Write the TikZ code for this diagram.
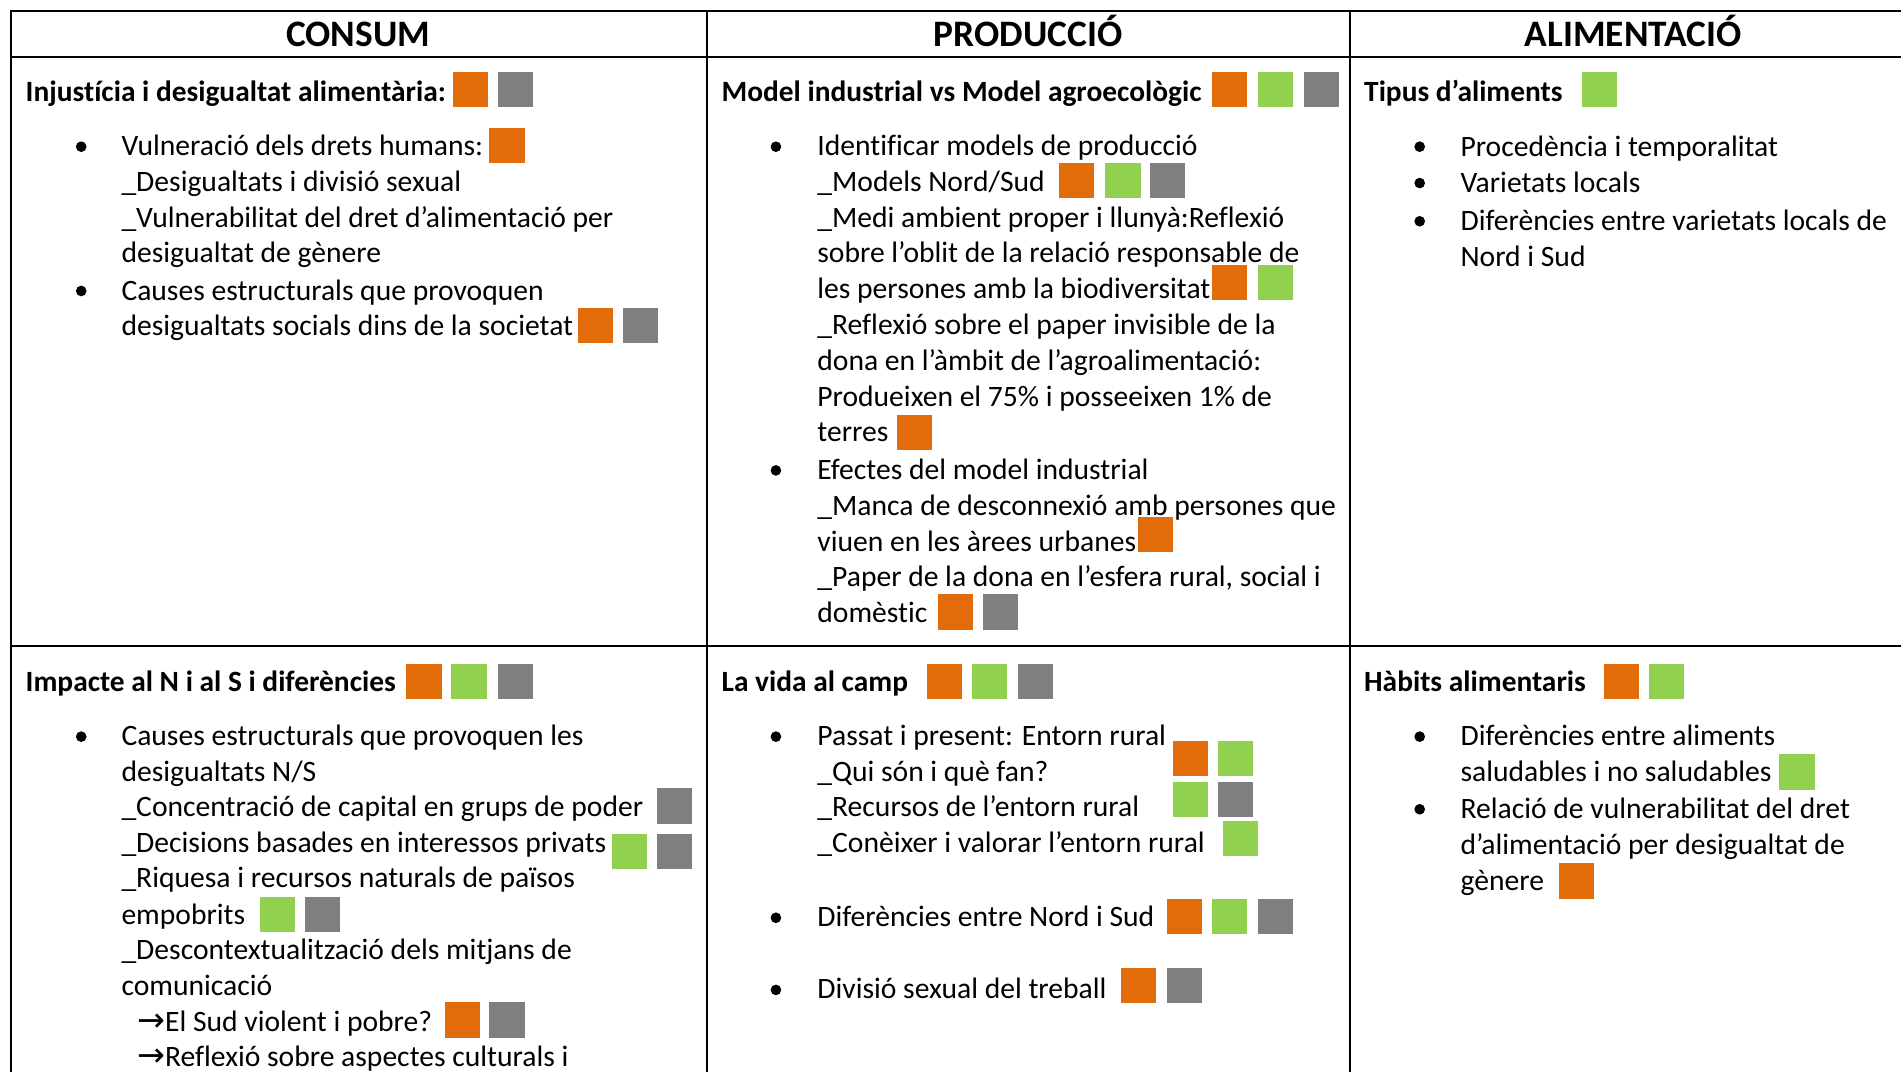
\documentclass[tikz,border=0pt]{standalone}
\usepackage{fontspec}
\setmainfont[Ligatures=CommonOff]{Carlito}
\newfontfamily\arrowfont{DejaVu Sans}
\newcommand{\arw}{\makebox[20.9pt][l]{\arrowfont\fontsize{25}{26}\selectfont →}}
\definecolor{sqorange}{HTML}{E36C0A}
\definecolor{sqgreen}{HTML}{92D050}
\definecolor{sqgrey}{HTML}{7F7F7F}
\tikzset{
  grid/.style={line width=1.5pt,black},
  txt/.style={anchor=base west,inner sep=0pt,yshift=-0.9pt,font=\fontsize{22.2}{26}\selectfont,text=black},
  topic/.style={txt,font=\fontsize{22.05}{26}\selectfont\bfseries},
  head/.style={anchor=base,inner sep=0pt,yshift=-0.9pt,font=\fontsize{28}{32}\selectfont\bfseries},
  dot/.style={circle,fill=black,inner sep=0pt,minimum size=8pt},
  sq/.style={anchor=north west,inner sep=0pt,xshift=-0.45pt,minimum width=26.4pt,minimum height=26.4pt},
  sqo/.style={sq,fill=sqorange},
  sqv/.style={sq,fill=sqgreen},
  sqg/.style={sq,fill=sqgrey},
}
\begin{document}
\begin{tikzpicture}[x=0.90933pt,y=-0.90933pt]
\useasboundingbox (0,0) rectangle (1568,884.2);
\fill[white] (0,0) rectangle (1568,884.2);
\clip (0,0) rectangle (1568,884.2);
% table
\draw[grid] (1568,9) -- (9,9) -- (9,884.2);
\draw[grid] (583,9) -- (583,884.2);
\draw[grid] (1113.5,9) -- (1113.5,884.2);
\draw[grid] (9,47) -- (1568,47);
\draw[grid] (9,533) -- (1568,533);
% headers
\node[head] (h1) at (295.5,37) {CONSUM};
\node[head] (h2) at (848,37) {PRODUCCIÓ};
\node[head] (h3) at (1347,37) {ALIMENTACIÓ};
% column 1, row 1
\node[topic] (a0) at (21,82.5) {Injustícia i desigualtat alimentària:};
\node[dot] (ab1) at (67,121) {};
\node[txt] (a1) at (100,127.3) {Vulneració dels drets humans:};
\node[txt] (a2) at (100,157) {\_Desigualtats i divisió sexual};
\node[txt] (a3) at (100,186.4) {\_Vulnerabilitat del dret d’alimentació per};
\node[txt] (a4) at (100,215.8) {desigualtat de gènere};
\node[dot] (ab2) at (67,240) {};
\node[txt] (a5) at (100,247) {Causes estructurals que provoquen};
\node[txt] (a6) at (100,275.5) {desigualtats socials dins de la societat};
\node[sqo] (as1) at (374,59) {};
\node[sqg] (as2) at (411,59) {};
\node[sqo] (as3) at (404,105) {};
\node[sqo] (as4) at (477,254) {};
\node[sqg] (as5) at (514,254) {};
% column 1, row 2
\node[topic] (b0) at (21,569.7) {Impacte al N i al S i diferències};
\node[dot] (bb1) at (67,607.6) {};
\node[txt] (b1) at (100,613.7) {Causes estructurals que provoquen les};
\node[txt] (b2) at (100,643.3) {desigualtats N/S};
\node[txt] (b3) at (100,672.5) {\_Concentració de capital en grups de poder};
\node[txt] (b4) at (100,702) {\_Decisions basades en interessos privats};
\node[txt] (b5) at (100,731.4) {\_Riquesa i recursos naturals de països};
\node[txt] (b6) at (100,761.3) {empobrits};
\node[txt] (b7) at (100,790.4) {\_Descontextualització dels mitjans de};
\node[txt] (b8) at (100,820) {comunicació};
\node[txt] (b9) at (113,849.6) {\arw El Sud violent i pobre?};
\node[txt] (b10) at (113,879) {\arw Reflexió sobre aspectes culturals i};
\node[sqo] (bs1) at (335.5,547.7) {};
\node[sqv] (bs2) at (372.6,547.7) {};
\node[sqg] (bs3) at (410.9,547.7) {};
\node[sqg] (bs4) at (542,650) {};
\node[sqv] (bs5) at (504.8,687.9) {};
\node[sqg] (bs6) at (542,687.9) {};
\node[sqv] (bs7) at (214.4,739.8) {};
\node[sqg] (bs8) at (251.5,739.8) {};
\node[sqo] (bs9) at (367,826.5) {};
\node[sqg] (bs10) at (404,826.5) {};
% column 2, row 1
\node[topic] (c0) at (595,82.5) {Model industrial vs Model agroecològic};
\node[dot] (cb1) at (640,121) {};
\node[txt] (c1) at (674,127.3) {Identificar models de producció};
\node[txt] (c2) at (674,157) {\_Models Nord/Sud};
\node[txt] (c3) at (674,186.4) {\_Medi ambient proper i llunyà:Reflexió};
\node[txt] (c4) at (674,215.8) {sobre l’oblit de la relació responsable de};
\node[txt] (c5) at (674,245.3) {les persones amb la biodiversitat};
\node[txt] (c6) at (674,275) {\_Reflexió sobre el paper invisible de la};
\node[txt] (c7) at (674,304.5) {dona en l’àmbit de l’agroalimentació:};
\node[txt] (c8) at (674,334) {Produeixen el 75\% i posseeixen 1\% de};
\node[txt] (c9) at (674,363.5) {terres};
\node[dot] (cb2) at (640,388) {};
\node[txt] (c10) at (674,394.5) {Efectes del model industrial};
\node[txt] (c11) at (674,424) {\_Manca de desconnexió amb persones que};
\node[txt] (c12) at (674,453.5) {viuen en les àrees urbanes};
\node[txt] (c13) at (674,483) {\_Paper de la dona en l’esfera rural, social i};
\node[txt] (c14) at (674,512.5) {domèstic};
\node[sqo] (cs1) at (1000,59) {};
\node[sqv] (cs2) at (1038,59) {};
\node[sqg] (cs3) at (1076,59) {};
\node[sqo] (cs4) at (874,134) {};
\node[sqv] (cs5) at (912,134) {};
\node[sqg] (cs6) at (949,134) {};
\node[sqo] (cs7) at (1000,218) {};
\node[sqv] (cs8) at (1038,218) {};
\node[sqo] (cs9) at (740,342) {};
\node[sqo] (cs10) at (939,426) {};
\node[sqo] (cs11) at (774,490) {};
\node[sqg] (cs12) at (811,490) {};
% column 2, row 2
\node[topic] (d0) at (595,569.7) {La vida al camp};
\node[dot] (db1) at (640,607.6) {};
\node[txt] (d1) at (674,613.7) {Passat i present: Entorn rural};
\node[txt] (d2) at (674,643.3) {\_Qui són i què fan?};
\node[txt] (d3) at (674,672.5) {\_Recursos de l’entorn rural};
\node[txt] (d4) at (674,702) {\_Conèixer i valorar l’entorn rural};
\node[dot] (db2) at (640,757) {};
\node[txt] (d5) at (674,763) {Diferències entre Nord i Sud};
\node[dot] (db3) at (640,816.5) {};
\node[txt] (d6) at (674,823) {Divisió sexual del treball};
\node[sqo] (ds1) at (765,547.7) {};
\node[sqv] (ds2) at (802,547.7) {};
\node[sqg] (ds3) at (840,547.7) {};
\node[sqo] (ds4) at (968,611) {};
\node[sqv] (ds5) at (1005,611) {};
\node[sqv] (ds6) at (968,645) {};
\node[sqg] (ds7) at (1005,645) {};
\node[sqv] (ds8) at (1009,677) {};
\node[sqo] (ds9) at (963,741) {};
\node[sqv] (ds10) at (1000,741) {};
\node[sqg] (ds11) at (1038,741) {};
\node[sqo] (ds12) at (925,798) {};
\node[sqg] (ds13) at (963,798) {};
% column 3, row 1
\node[topic] (e0) at (1125,82.5) {Tipus d’aliments};
\node[dot] (eb1) at (1171,121) {};
\node[txt] (e1) at (1204.5,127.8) {Procedència i temporalitat};
\node[dot] (eb2) at (1171,151) {};
\node[txt] (e2) at (1204.5,158) {Varietats locals};
\node[dot] (eb3) at (1171,182.5) {};
\node[txt] (e3) at (1204.5,189) {Diferències entre varietats locals de};
\node[txt] (e4) at (1204.5,218.6) {Nord i Sud};
\node[sqv] (es1) at (1305,59) {};
% column 3, row 2
\node[topic] (f0) at (1125,569.7) {Hàbits alimentaris};
\node[dot] (fb1) at (1171,607.6) {};
\node[txt] (f1) at (1204.5,613.7) {Diferències entre aliments};
\node[txt] (f2) at (1204.5,643.3) {saludables i no saludables};
\node[dot] (fb2) at (1171,667.5) {};
\node[txt] (f3) at (1204.5,674) {Relació de vulnerabilitat del dret};
\node[txt] (f4) at (1204.5,704) {d’alimentació per desigualtat de};
\node[txt] (f5) at (1204.5,733.5) {gènere};
\node[sqo] (fs1) at (1323,547.7) {};
\node[sqv] (fs2) at (1360,547.7) {};
\node[sqv] (fs3) at (1468,622) {};
\node[sqo] (fs4) at (1286,712) {};
\end{tikzpicture}
\end{document}
